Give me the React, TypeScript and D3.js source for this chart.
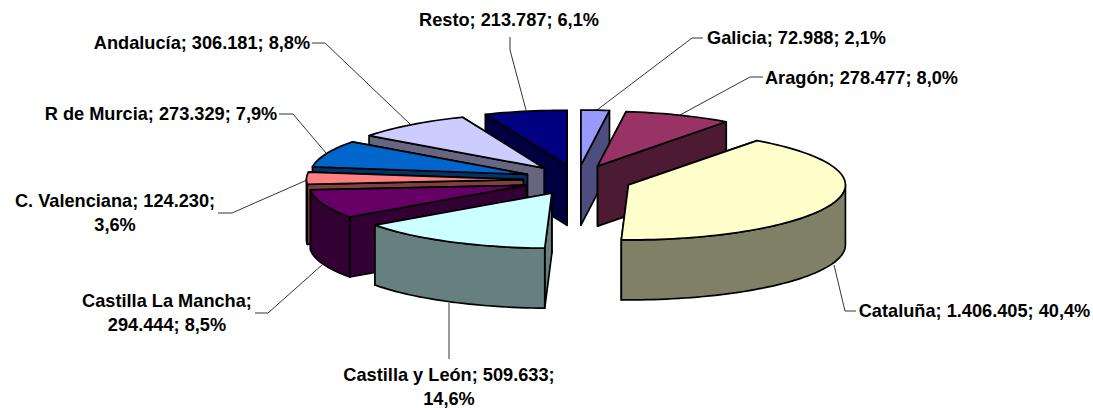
import React from "react";
import * as d3 from "d3";

const names = ["Galicia", "Aragón", "Cataluña", "Castilla y León", "Castilla La Mancha", "C. Valenciana", "R de Murcia", "Andalucía", "Resto"];
const values = [72988, 278477, 1406405, 509633, 294444, 124230, 273329, 306181, 213787];
const percents = ["2,1%", "8,0%", "40,4%", "14,6%", "8,5%", "3,6%", "7,9%", "8,8%", "6,1%"];
const colors = ["#9999ff", "#993366", "#ffffcc", "#ccffff", "#660066", "#ff8080", "#0066cc", "#ccccff", "#000080"];

// how the labels wrap and where they sit, same order as names
const labelLines = [
  (v: string, p: string, n: string) => [`${n}; ${v}; ${p}`],
  (v: string, p: string, n: string) => [`${n}; ${v}; ${p}`],
  (v: string, p: string, n: string) => [`${n}; ${v}; ${p}`],
  (v: string, p: string, n: string) => [`${n}; ${v};`, p],
  (v: string, p: string, n: string) => [`${n};`, `${v}; ${p}`],
  (v: string, p: string, n: string) => [`${n}; ${v};`, p],
  (v: string, p: string, n: string) => [`${n}; ${v}; ${p}`],
  (v: string, p: string, n: string) => [`${n}; ${v}; ${p}`],
  (v: string, p: string, n: string) => [`${n}; ${v}; ${p}`],
];
const labelPos = [[796.5, 44], [861.5, 84], [974.5, 317], [449, 381], [167, 307], [115, 207], [161, 120], [202, 49], [509, 26]];
const leaders = [
  "703,38 692,38 597,110",
  "763,77 750,77 680,115",
  "856,311 845,311 834,265",
  "449,303 449,359",
  "255,313 268,313 322,265",
  "218,213 232,213 307,180",
  "279,114 293,114 326,153",
  "312,43 325,43 410,124",
  "510,37 510,50 526,110",
];

// painter's order, back of the pie first
const drawOrder = [8, 0, 7, 1, 6, 5, 4, 2, 3];

const cx = 577.4;
const cy = 180;
const rx = 217;
const ry = 55;
const depth = 60;
const explodeX = 54;
const explodeY = 15;

const numFmt = (v: number) => d3.format(",")(v).replace(/,/g, ".");

const App = () => {
  const arcs = d3.pie<number>().sort(null).startAngle(0).endAngle(2 * Math.PI)(values);

  const slices = drawOrder.map((i) => {
    const { startAngle: a0, endAngle: a1 } = arcs[i];
    const mid = (a0 + a1) / 2;
    const ax = cx + explodeX * Math.sin(mid);
    const ay = cy - explodeY * Math.cos(mid);
    const pt = (t: number, dz = 0): [number, number] => [ax + rx * Math.sin(t), ay - ry * Math.cos(t) + dz];
    const rim = (t0: number, t1: number, dz = 0) => {
      const n = Math.max(2, Math.ceil(Math.abs(t1 - t0) / 0.03));
      return d3.range(n + 1).map((k) => pt(t0 + ((t1 - t0) * k) / n, dz));
    };
    const line = d3.line();
    const top = line([[ax, ay], ...rim(a0, a1)]) + "Z";
    const radial = (t: number) => line([[ax, ay], pt(t), pt(t, depth), [ax, ay + depth]]) + "Z";
    const startFace = radial(a0);
    const endFace = radial(a1);
    const startVisible = Math.sin(a0) < 0;
    const endVisible = Math.sin(a1) > 0;
    const lo = Math.max(a0, Math.PI / 2);
    const hi = Math.min(a1, (3 * Math.PI) / 2);
    const rimFace = hi > lo ? line([...rim(lo, hi), ...rim(hi, lo, depth)]) + "Z" : null;
    const faces = [
      ...(startVisible ? [] : [startFace]),
      ...(endVisible ? [] : [endFace]),
      ...(startVisible ? [startFace] : []),
      ...(endVisible ? [endFace] : []),
      ...(rimFace ? [rimFace] : []),
    ];
    const shade = d3.rgb(colors[i]);
    return { i, top, faces, wall: d3.rgb(shade.r / 2, shade.g / 2, shade.b / 2).formatHex() };
  });

  return (
    <svg width={1093} height={408} style={{ position: "absolute", left: 0, top: 0 }} fontFamily="'Liberation Sans', Arial, sans-serif">
      <rect width={1093} height={408} fill="#fff" />
      {leaders.map((p, i) => (
        <polyline key={i} points={p} fill="none" stroke="#000" strokeWidth={0.8} />
      ))}
      {slices.map((s) => (
        <g key={s.i} stroke="#000" strokeWidth={1.7} strokeLinejoin="round">
          {s.faces.map((d, k) => (
            <path key={k} d={d} fill={s.wall} />
          ))}
          <path d={s.top} fill={colors[s.i]} />
        </g>
      ))}
      {names.map((n, i) => (
        <text key={n} x={labelPos[i][0]} y={labelPos[i][1]} textAnchor="middle" fontSize={18.2} fontWeight="bold" fill="#000">
          {labelLines[i](numFmt(values[i]), percents[i], n).map((t, k) => (
            <tspan key={k} x={labelPos[i][0]} dy={k === 0 ? 0 : 23.5}>
              {t}
            </tspan>
          ))}
        </text>
      ))}
    </svg>
  );
};

export default App;
